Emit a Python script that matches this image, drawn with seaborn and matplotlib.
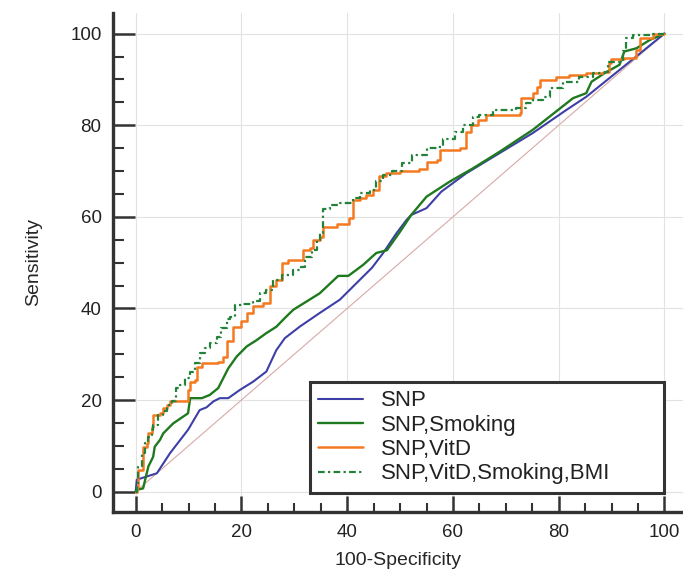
import matplotlib
matplotlib.use("Agg")
import matplotlib.pyplot as plt
import seaborn as sns
from matplotlib.ticker import MultipleLocator

# ROC curves (100-Specificity, Sensitivity)
snp_x = [0, 0.2, 4.0, 6.5, 9.9, 12.1, 13.4, 14.7, 15.9, 17.5, 19.7, 22.2, 24.7, 26.6, 28.2,
         31.0, 34.8, 38.6, 44.7, 46.8, 49.3, 51.2, 52.1, 55.0, 57.8, 62.5, 68.8, 75.1, 81.4,
         85.2, 100]
snp_y = [0, 2.6, 4.0, 8.4, 13.5, 17.8, 18.4, 19.7, 20.4, 20.4, 22.2, 24.0, 26.2, 30.9, 33.5,
         36.0, 39.0, 41.9, 48.9, 52.1, 56.4, 59.3, 60.4, 61.9, 65.5, 69.5, 73.9, 78.3, 83.3,
         86.2, 100]

smk_x = [0, 0.2, 1.4, 2.4, 3.3, 3.6, 4.6, 5.2, 7.1, 9.9, 10.3, 12.5, 14.0, 15.6, 17.5, 19.1,
         21.0, 22.9, 24.7, 26.6, 28.2, 29.8, 34.8, 38.3, 40.2, 43.0, 45.5, 47.5, 49.9, 52.1,
         55.0, 59.4, 63.8, 68.8, 75.1, 82.7, 85.2, 86.2, 88.7, 91.5, 92.4, 94.7, 97.2, 100]
smk_y = [0, 0.4, 0.7, 5.5, 7.6, 9.8, 11.3, 12.7, 14.9, 17.1, 20.4, 20.4, 21.1, 22.6, 26.9, 29.5,
         31.7, 33.1, 34.6, 36.0, 37.9, 39.7, 43.3, 47.1, 47.1, 49.5, 52.1, 52.7, 56.6, 60.4,
         64.4, 67.7, 70.6, 74.2, 79.0, 85.9, 87.0, 89.5, 91.4, 93.2, 96.1, 96.8, 98.6, 100]

vitd_x = [0, 0.2, 0.5, 1.4, 2.1, 2.4, 3.0, 3.3, 4.6, 5.2, 5.9, 6.5, 9.3, 9.9, 10.3, 11.2, 11.5,
          12.5, 15.6, 16.5, 17.2, 18.4, 20.0, 21.0, 22.2, 24.1, 25.4, 26.6, 27.6, 28.8, 31.0,
          31.7, 32.9, 33.6, 34.8, 35.4, 38.0, 40.3, 41.1, 42.4, 43.6, 44.9, 46.1, 47.4, 49.9,
          53.5, 55.0, 56.9, 57.5, 61.3, 62.5, 63.5, 64.7, 66.3, 72.6, 72.9, 75.1, 75.8, 76.4,
          79.5, 82.0, 85.2, 88.3, 89.6, 89.9, 92.4, 94.7, 95.3, 97.8, 100]
vitd_y = [0, 1.1, 4.7, 9.8, 10.6, 12.7, 14.2, 16.7, 17.1, 18.2, 18.9, 19.7, 19.7, 22.2, 24.0,
          24.4, 27.3, 28.0, 28.4, 29.5, 32.8, 36.0, 37.3, 38.9, 40.6, 41.2, 44.8, 46.2, 49.9,
          50.6, 50.6, 52.8, 53.1, 55.0, 55.7, 57.7, 58.4, 59.7, 63.7, 64.1, 64.8, 65.9, 69.0,
          69.5, 70.0, 70.4, 72.0, 72.4, 74.6, 75.1, 78.5, 80.1, 81.2, 82.2, 82.6, 85.9, 87.0,
          88.4, 89.9, 90.5, 91.0, 91.4, 91.7, 93.5, 94.4, 94.6, 96.4, 99.0, 100, 100]

bmi_x = [0, 0.2, 0.5, 1.1, 1.8, 2.4, 3.0, 3.3, 4.3, 5.2, 5.9, 6.8, 7.7, 8.4, 9.3, 10.3, 11.2,
         12.1, 13.1, 14.0, 15.3, 16.2, 17.2, 17.8, 18.8, 20.3, 22.2, 23.5, 24.7, 26.0, 27.6,
         29.8, 31.2, 32.0, 33.3, 34.2, 34.8, 35.4, 36.7, 38.6, 39.9, 41.1, 42.4, 44.3, 45.5,
         46.8, 48.5, 50.3, 52.3, 55.0, 56.9, 58.1, 60.3, 61.9, 63.8, 65.0, 67.6, 72.0, 73.9,
         75.1, 77.0, 78.3, 80.8, 83.9, 86.5, 88.7, 89.3, 91.5, 92.1, 92.8, 94.0, 97.8, 100]
bmi_y = [0, 1.1, 5.5, 8.4, 10.6, 12.0, 13.5, 14.6, 16.7, 17.5, 18.9, 19.7, 22.6, 23.3, 24.8,
         26.2, 28.0, 30.2, 31.3, 32.4, 33.8, 35.7, 37.7, 38.2, 40.8, 41.0, 41.7, 43.3, 44.0,
         46.2, 47.3, 48.4, 49.1, 51.3, 52.8, 55.0, 56.4, 61.7, 62.6, 63.0, 63.0, 64.1, 65.3,
         65.9, 67.8, 69.1, 69.9, 71.7, 73.5, 75.0, 75.3, 76.9, 78.6, 80.1, 81.9, 82.2, 83.3,
         83.7, 84.8, 85.5, 86.2, 88.1, 89.5, 90.6, 91.5, 91.7, 93.9, 94.3, 96.1, 99.0, 99.7,
         100, 100]

labels = ["SNP", "SNP,Smoking", "SNP,VitD", "SNP,VitD,Smoking,BMI"]
colors = ["#3d3fa6", "#1f7a1f", "#f47920", "#22823a"]

sns.set_style("white")
plt.rcParams["font.family"] = ["Liberation Sans", "DejaVu Sans"]
plt.rcParams["text.color"] = "#222222"

fig, ax = plt.subplots(figsize=(6.83, 5.71), dpi=100)
fig.subplots_adjust(left=0.165, right=1.0, bottom=0.104, top=0.978)

# chance line
sns.lineplot(x=[0, 100], y=[0, 100], color="#d9a9a9", linewidth=0.8, ax=ax)

sns.lineplot(x=snp_x, y=snp_y, sort=False, estimator=None, color=colors[0],
             linewidth=1.5, label=labels[0], ax=ax)
sns.lineplot(x=smk_x, y=smk_y, sort=False, estimator=None, color=colors[1],
             linewidth=1.7, label=labels[1], ax=ax)
sns.lineplot(x=vitd_x, y=vitd_y, sort=False, estimator=None, color=colors[2],
             linewidth=1.8, drawstyle="steps-post", label=labels[2], ax=ax)
sns.lineplot(x=bmi_x, y=bmi_y, sort=False, estimator=None, color=colors[3],
             linewidth=1.6, linestyle=(0, (3, 1.5, 1, 1.5)), drawstyle="steps-post",
             label=labels[3], ax=ax)

ax.set_xlim(-4.35, 103.5)
ax.set_ylim(-4.37, 104.6)
ax.xaxis.set_major_locator(MultipleLocator(20))
ax.yaxis.set_major_locator(MultipleLocator(20))
ax.xaxis.set_minor_locator(MultipleLocator(5))
ax.yaxis.set_minor_locator(MultipleLocator(5))
ax.grid(True, which="major", color="#e2e2e2", linewidth=0.8)
ax.set_axisbelow(True)

for side in ["top", "right"]:
    ax.spines[side].set_visible(False)
for side in ["left", "bottom"]:
    ax.spines[side].set_linewidth(2.4)
    ax.spines[side].set_color("#333333")

ax.tick_params(which="both", left=True, bottom=True)
ax.tick_params(axis="y", which="major", direction="in", length=16, width=1.8,
               color="#333333", labelsize=13.5, pad=8, labelcolor="#222222")
ax.tick_params(axis="y", which="minor", direction="in", length=8, width=1.5, color="#333333")
ax.tick_params(axis="x", which="major", direction="in", length=11.5, width=1.8,
               color="#333333", labelsize=13.5, pad=9, labelcolor="#222222")
ax.tick_params(axis="x", which="minor", direction="in", length=6.5, width=1.5, color="#333333")

ax.set_xlabel("100-Specificity", fontsize=14, labelpad=8)
ax.set_ylabel("Sensitivity", fontsize=14, labelpad=20)

leg = ax.legend(loc="lower left", bbox_to_anchor=(0.346, 0.0375, 0.6207, 0), mode="expand",
                borderaxespad=0, fontsize=16, frameon=True, fancybox=False,
                edgecolor="#333333", framealpha=1, labelspacing=0.15,
                handlelength=2.0, handletextpad=0.8, borderpad=0.38)
leg.get_frame().set_linewidth(2.2)

plt.savefig("out.png", dpi=100)
